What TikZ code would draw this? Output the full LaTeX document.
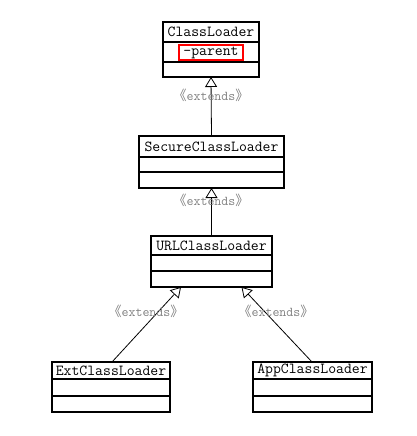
\documentclass[tikz,border=0pt]{standalone}
\usepackage{fontspec}
\newfontfamily\cjk{Noto Sans CJK SC}
\usetikzlibrary{arrows.meta,calc}
\begin{document}
\begin{tikzpicture}[x=1pt,y=-1pt,
  cls/.style={draw,line width=1.1pt,anchor=north west,inner sep=0pt,outer sep=0pt},
  div/.style={line width=1.1pt},
  cname/.style={font=\fontsize{15.3}{15.3}\selectfont\ttfamily,inner sep=0pt},
  ext/.style={line width=0.8pt,-{Triangle[open,length=10pt,width=12pt,line width=0.8pt]}},
  lbl/.style={text=black!50,inner sep=0pt,font=\fontsize{13.5}{13.5}\selectfont\ttfamily}]
\useasboundingbox (0,0) rectangle (417,436);
% ClassLoader
\node[cls,minimum width=96pt,minimum height=55pt] (cl) at (163,22) {};
\draw[div] ($(cl.north west)+(0,20)$) -- ($(cl.north east)+(0,20)$);
\draw[div] ($(cl.north west)+(0,40)$) -- ($(cl.north east)+(0,40)$);
\node[cname] (cln) at ($(cl.north)+(0,10)$) {ClassLoader};
\node[cname,draw=red,line width=1.3pt,minimum width=64pt,minimum height=15pt] (par) at ($(cl.north)+(0,30.5)$) {-parent};
% SecureClassLoader
\node[cls,minimum width=145pt,minimum height=52pt] (sec) at (139,136) {};
\draw[div] ($(sec.north west)+(0,21)$) -- ($(sec.north east)+(0,21)$);
\draw[div] ($(sec.north west)+(0,36)$) -- ($(sec.north east)+(0,36)$);
\node[cname] (secn) at ($(sec.north)+(0,10.5)$) {SecureClassLoader};
% URLClassLoader
\node[cls,minimum width=121pt,minimum height=51pt] (url) at (151,236) {};
\draw[div] ($(url.north west)+(0,19)$) -- ($(url.north east)+(0,19)$);
\draw[div] ($(url.north west)+(0,35)$) -- ($(url.north east)+(0,35)$);
\node[cname] (urln) at ($(url.north)+(0,9.5)$) {URLClassLoader};
% ExtClassLoader
\node[cls,minimum width=118pt,minimum height=50pt] (extc) at (52,362) {};
\draw[div] ($(extc.north west)+(0,17)$) -- ($(extc.north east)+(0,17)$);
\draw[div] ($(extc.north west)+(0,34)$) -- ($(extc.north east)+(0,34)$);
\node[cname] (extn) at ($(extc.north)+(0,8.5)$) {ExtClassLoader};
% AppClassLoader
\node[cls,minimum width=119pt,minimum height=50pt] (app) at (253,362) {};
\draw[div] ($(app.north west)+(0,17)$) -- ($(app.north east)+(0,17)$);
\draw[div] ($(app.north west)+(0,34)$) -- ($(app.north east)+(0,34)$);
\node[cname] (appn) at ($(app.north)+(0,8.5)$) {AppClassLoader};
% connectors
\draw[ext] (sec.north) -- (cl.south);
\draw[ext] (url.north) -- (sec.south);
\draw[ext] ([xshift=1pt]extc.north) -- ([xshift=-30.5pt]url.south);
\draw[ext] ([xshift=-0.5pt]app.north) -- ([xshift=30pt]url.south);
% labels
\node[lbl] (l1) at (211,95) {{\cjk 《}extends{\cjk 》}};
\node[lbl] (l2) at (211,200) {{\cjk 《}extends{\cjk 》}};
\node[lbl] (l3) at (146,311) {{\cjk 《}extends{\cjk 》}};
\node[lbl] (l4) at (276,311) {{\cjk 《}extends{\cjk 》}};
\end{tikzpicture}
\end{document}
